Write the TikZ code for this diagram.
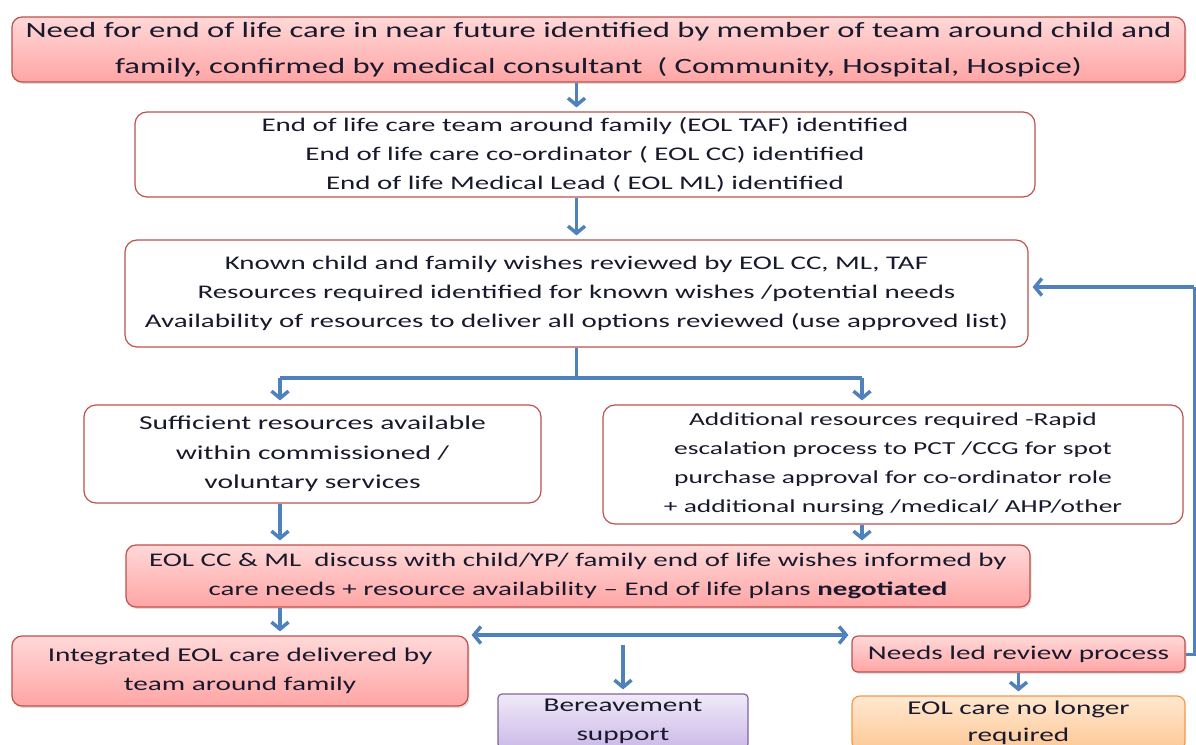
\documentclass[tikz,border=0pt]{standalone}
\usepackage{fontspec}
\setmainfont{Carlito}[FakeStretch=1.5]
\usetikzlibrary{arrows.meta,shadows}
\definecolor{arrowblue}{RGB}{79,129,189}
\definecolor{boxred}{RGB}{192,80,77}
\definecolor{pinktop}{RGB}{255,216,216}
\definecolor{pinkbot}{RGB}{255,165,165}
\definecolor{purpletop}{RGB}{240,234,248}
\definecolor{purplebot}{RGB}{204,186,232}
\definecolor{purpleline}{RGB}{128,100,162}
\definecolor{orangetop}{RGB}{255,232,208}
\definecolor{orangebot}{RGB}{253,200,150}
\definecolor{orangeline}{RGB}{247,150,70}
\definecolor{txt}{RGB}{25,25,45}
\tikzset{
  base/.style={draw=boxred, line width=1.2pt, align=center, text=txt, inner sep=2pt},
  whitebox/.style={base, fill=white, rounded corners=12pt},
  pinkbox/.style={base, top color=pinktop, bottom color=pinkbot, rounded corners=10pt,
    drop shadow={opacity=0.25, shadow xshift=1.5pt, shadow yshift=-2pt}},
  purplebox/.style={base, draw=purpleline, top color=purpletop, bottom color=purplebot, rounded corners=4pt},
  orangebox/.style={base, draw=orangeline, top color=orangetop, bottom color=orangebot, rounded corners=8pt},
  arr/.style={draw=arrowblue, line width=3.5pt, -{Straight Barb[length=7pt,width=17pt,line width=3.5pt]}, shorten >=4pt},
  dblarr/.style={draw=arrowblue, line width=3.5pt, {Straight Barb[length=7pt,width=17pt,line width=3.5pt]}-{Straight Barb[length=7pt,width=17pt,line width=3.5pt]}, shorten >=3pt, shorten <=3pt},
  ln/.style={draw=arrowblue, line width=3.5pt}
}
\begin{document}
\begin{tikzpicture}[x=1pt,y=-1pt]
\useasboundingbox (0,0) rectangle (1196,744);
\clip (0,0) rectangle (1196,744);
\fill[white] (0,0) rectangle (1196,744);

\node[pinkbox, minimum width=1173pt, minimum height=65pt, font=\fontsize{21.8}{36}\selectfont] (box1) at (598.5,49.5)
  {Need for end of life care in near future identified by member of team around child and\\family, confirmed by medical consultant\ \ ( Community, Hospital, Hospice)};
\node[whitebox, minimum width=900pt, minimum height=85pt, font=\fontsize{19.3}{29}\selectfont] (box2) at (585,154.5)
  {End of life care team around family (EOL TAF) identified\\End of life care co-ordinator ( EOL CC) identified\\End of life Medical Lead ( EOL ML) identified};
\node[whitebox, minimum width=903pt, minimum height=107pt, font=\fontsize{19.3}{29}\selectfont] (box3) at (576.5,293.5)
  {Known child and family wishes reviewed by EOL CC, ML, TAF\\Resources required identified for known wishes /potential needs\\Availability of resources to deliver all options reviewed (use approved list)};
\node[whitebox, minimum width=457pt, minimum height=98pt, font=\fontsize{19.7}{29.5}\selectfont] (box4) at (312.5,454)
  {Sufficient resources available\\within commissioned /\\voluntary services};
\node[whitebox, minimum width=580pt, minimum height=119pt, font=\fontsize{18.3}{29}\selectfont] (box5) at (893,464.5)
  {Additional resources required -Rapid\\escalation process to PCT /CCG for spot\\purchase approval for co-ordinator role\\+ additional nursing /medical/ AHP/other};
\node[pinkbox, minimum width=904pt, minimum height=62pt, font=\fontsize{19.3}{29}\selectfont] (box6) at (578,576)
  {EOL CC \& ML\ \ discuss with child/YP/ family end of life wishes informed by\\care needs + resource availability -- End of life plans \textbf{negotiated}};
\node[pinkbox, minimum width=456pt, minimum height=70pt, font=\fontsize{19.5}{29}\selectfont] (box7) at (240,671)
  {Integrated EOL care delivered by\\team around family};
\node[pinkbox, rounded corners=6pt, minimum width=333pt, minimum height=36pt, font=\fontsize{19.5}{29}\selectfont] (box8) at (1018.5,654)
  {Needs led review process};
\node[purplebox, minimum width=250pt, minimum height=54pt, font=\fontsize{19.5}{29}\selectfont] (box9) at (623,721)
  {Bereavement\\support};
\node[orangebox, minimum width=333pt, minimum height=54pt, font=\fontsize{19.5}{27}\selectfont] (box10) at (1018.5,723)
  {EOL care no longer\\required};

\coordinate (colM) at (576.5,0);
\coordinate (colL) at (280,0);
\coordinate (colR) at (862,0);
\coordinate (split) at (0,378);
\coordinate (dbl) at (0,635);
\coordinate (fb) at (1194,0);

\draw[arr] (box1.south -| colM) -- (box2.north -| colM);
\draw[arr] (box2.south -| colM) -- (box3.north -| colM);
\draw[ln] (box3.south -| colM) -- (split -| colM);
\draw[ln] (split -| colL) -- (split -| colR);
\draw[arr] (split -| colL) -- (box4.north -| colL);
\draw[arr] (split -| colR) -- (box5.north -| colR);
\draw[arr] (box4.south -| colL) -- (box6.north -| colL);
\draw[arr] (box5.south -| colR) -- (box6.north -| colR);
\draw[arr] (box6.south -| colL) -- (box7.north -| colL);
\draw[dblarr] (box7.east |- dbl) -- (box8.west |- dbl);
\draw[arr, shorten <=10pt] (box9.north |- dbl) -- (box9.north);
\draw[arr] (box8.south) -- (box10.north);
\draw[ln, line width=3pt] (box8.east) -- (fb |- box8.east) -- (fb |- 0,287);
\draw[arr] (fb |- 0,287) -- ([yshift=6.5pt]box3.east);
\end{tikzpicture}
\end{document}
